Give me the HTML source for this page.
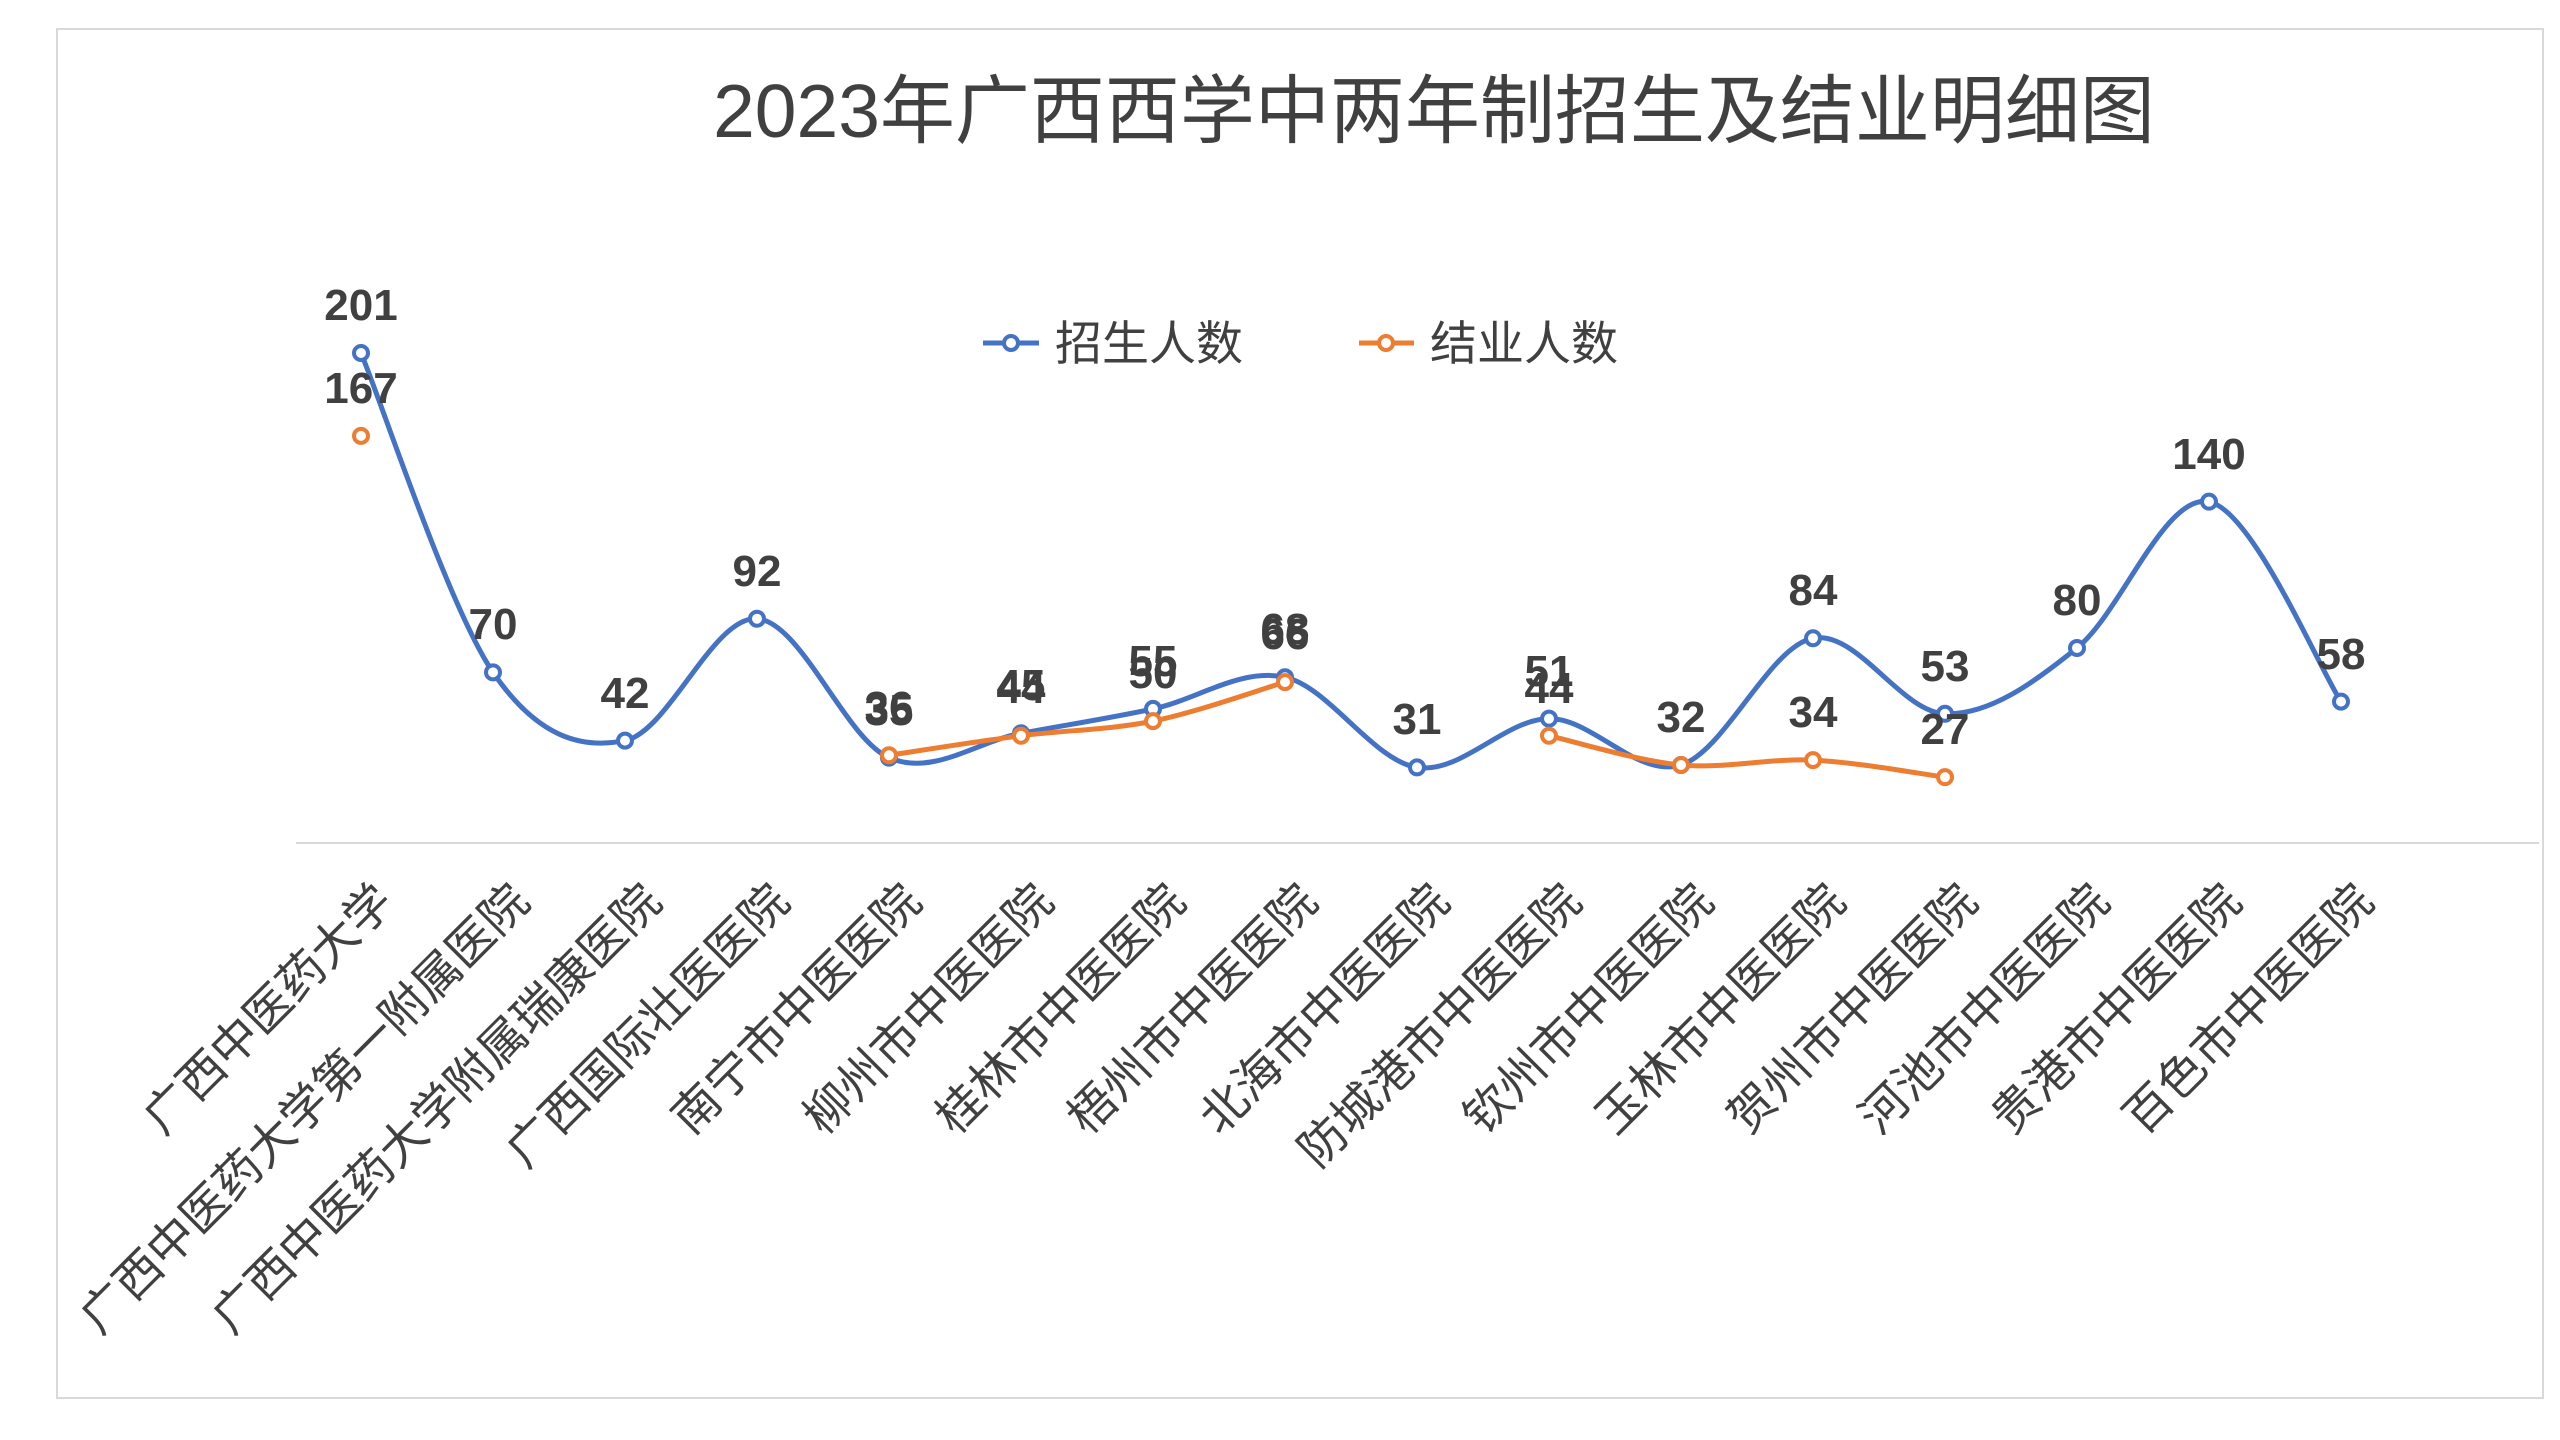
<!DOCTYPE html>
<html><head><meta charset="utf-8">
<style>
html,body{margin:0;padding:0;background:#fff;}
svg{display:block;}
text{font-family:"Liberation Sans","Noto Sans CJK SC",sans-serif;fill:#404040;}
.v{font-size:44px;font-weight:bold;text-anchor:middle;}
.c{font-size:47px;text-anchor:end;}
</style></head><body>
<svg id="s" width="2560" height="1440" viewBox="0 0 2560 1440" xmlns="http://www.w3.org/2000/svg">
<rect x="57" y="29" width="2486" height="1369" fill="#fff" stroke="#d9d9d9" stroke-width="2"/>
<text x="1434" y="137" style="font-size:75px;text-anchor:middle;fill:#404040">2023年广西西学中两年制招生及结业明细图</text>
<line x1="296" y1="843" x2="2539" y2="843" stroke="#d9d9d9" stroke-width="2"/>
<!-- legend -->
<line x1="983" y1="343" x2="1039" y2="343" stroke="#4472C4" stroke-width="5"/>
<circle cx="1011" cy="343" r="7" fill="#fff" stroke="#4472C4" stroke-width="4"/>
<text x="1055" y="360" style="font-size:47px">招生人数</text>
<line x1="1359" y1="343" x2="1414" y2="343" stroke="#ED7D31" stroke-width="5"/>
<circle cx="1386" cy="343" r="7" fill="#fff" stroke="#ED7D31" stroke-width="4"/>
<text x="1430" y="360" style="font-size:47px">结业人数</text>
<g id="series"></g>
<!-- blue labels -->
<text class="v" x="361" y="320">201</text>
<text class="v" x="493" y="639">70</text>
<text class="v" x="625" y="708">42</text>
<text class="v" x="757" y="586">92</text>
<text class="v" x="889" y="725">35</text>
<text class="v" x="1021" y="700">45</text>
<text class="v" x="1153" y="676">55</text>
<text class="v" x="1285" y="644">68</text>
<text class="v" x="1417" y="734">31</text>
<text class="v" x="1549" y="686">51</text>
<text class="v" x="1681" y="732">32</text>
<text class="v" x="1813" y="605">84</text>
<text class="v" x="1945" y="681">53</text>
<text class="v" x="2077" y="615">80</text>
<text class="v" x="2209" y="469">140</text>
<text class="v" x="2341" y="669">58</text>
<!-- orange labels -->
<text class="v" x="361" y="403">167</text>
<text class="v" x="889" y="722">36</text>
<text class="v" x="1021" y="703">44</text>
<text class="v" x="1153" y="688">50</text>
<text class="v" x="1285" y="649">66</text>
<text class="v" x="1549" y="703">44</text>
<text class="v" x="1813" y="727">34</text>
<text class="v" x="1945" y="744">27</text>
<!-- categories -->
<g>
<text class="c" transform="translate(396,904) rotate(-45)">广西中医药大学</text>
<text class="c" transform="translate(532,904) rotate(-45)">广西中医药大学第一附属医院</text>
<text class="c" transform="translate(664,904) rotate(-45)">广西中医药大学附属瑞康医院</text>
<text class="c" transform="translate(792,904) rotate(-45)">广西国际壮医医院</text>
<text class="c" transform="translate(924,904) rotate(-45)">南宁市中医医院</text>
<text class="c" transform="translate(1056,904) rotate(-45)">柳州市中医医院</text>
<text class="c" transform="translate(1188,904) rotate(-45)">桂林市中医医院</text>
<text class="c" transform="translate(1320,904) rotate(-45)">梧州市中医医院</text>
<text class="c" transform="translate(1452,904) rotate(-45)">北海市中医医院</text>
<text class="c" transform="translate(1584,904) rotate(-45)">防城港市中医医院</text>
<text class="c" transform="translate(1716,904) rotate(-45)">钦州市中医医院</text>
<text class="c" transform="translate(1848,904) rotate(-45)">玉林市中医医院</text>
<text class="c" transform="translate(1980,904) rotate(-45)">贺州市中医医院</text>
<text class="c" transform="translate(2112,904) rotate(-45)">河池市中医医院</text>
<text class="c" transform="translate(2244,904) rotate(-45)">贵港市中医医院</text>
<text class="c" transform="translate(2376,904) rotate(-45)">百色市中医医院</text>
</g>
</svg>
<script>
(function(){
var NS="http://www.w3.org/2000/svg";
var g=document.getElementById("series");
function X(i){return 361+132*i;}
function Y(v){return 843-2.438*v;}
var blue=[201,70,42,92,35,45,55,68,31,51,32,84,53,80,140,58];
var orange=[167,null,null,null,36,44,50,66,null,44,32,34,27,null,null,null];
function segs(data){
  var out=[],cur=[];
  data.forEach(function(v,i){ if(v==null){ if(cur.length) out.push(cur); cur=[]; } else cur.push([X(i),Y(v)]); });
  if(cur.length) out.push(cur); return out;
}
function path(p){
  var d="M"+p[0][0]+","+p[0][1];
  for(var i=0;i<p.length-1;i++){
    var p0=p[i-1]||p[i],p1=p[i],p2=p[i+1],p3=p[i+2]||p2;
    var c1x=p1[0]+(p2[0]-p0[0])/6,c1y=p1[1]+(p2[1]-p0[1])/6;
    var c2x=p2[0]-(p3[0]-p1[0])/6,c2y=p2[1]-(p3[1]-p1[1])/6;
    d+=" C"+c1x+","+c1y+" "+c2x+","+c2y+" "+p2[0]+","+p2[1];
  }
  return d;
}
function draw(data,col){
  segs(data).forEach(function(p){
    if(p.length>1){var e=document.createElementNS(NS,"path");e.setAttribute("d",path(p));e.setAttribute("fill","none");e.setAttribute("stroke",col);e.setAttribute("stroke-width","5");e.setAttribute("stroke-linecap","round");g.appendChild(e);}
  });
  data.forEach(function(v,i){ if(v==null)return;
    var c=document.createElementNS(NS,"circle");c.setAttribute("cx",X(i));c.setAttribute("cy",Y(v));c.setAttribute("r","7");c.setAttribute("fill","#fff");c.setAttribute("stroke",col);c.setAttribute("stroke-width","4");g.appendChild(c);});
}
draw(blue,"#4472C4");
draw(orange,"#ED7D31");
})();
</script>
</body></html>
